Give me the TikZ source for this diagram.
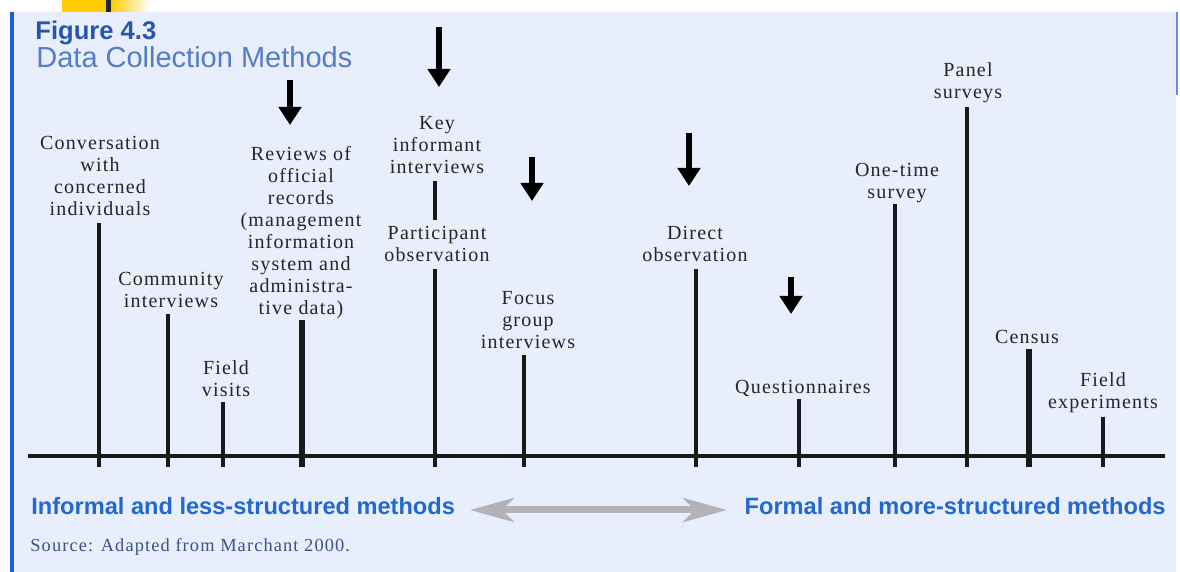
\documentclass[tikz,border=0pt]{standalone}
\usepackage{fontspec}
\setmainfont[LetterSpace=6]{Liberation Serif}
\newfontfamily\figsans{Liberation Sans}
\usepackage{tikz}
\usetikzlibrary{arrows.meta, calc}

\definecolor{panelblue}{RGB}{232,238,252}
\definecolor{borderblue}{RGB}{25,95,215}
\definecolor{figblue}{RGB}{40,85,175}
\definecolor{titleblue}{RGB}{85,125,195}
\definecolor{scaleblue}{RGB}{35,105,205}
\definecolor{sourceblue}{RGB}{60,80,140}
\definecolor{rangegray}{RGB}{178,178,184}
\definecolor{tabyellow}{RGB}{255,204,0}

\begin{document}
\begin{tikzpicture}[x=0.5pt, y=-0.5pt]
    \tikzset{
        method label/.style={
                font=\fontsize{10}{11}\selectfont, text=black!85, align=center,
                inner sep=0pt, text depth=0pt, anchor=south
            },
        stem/.style={line width=2pt, black!90},
        heavy stem/.style={line width=2.8pt, black!90},
        cue arrow/.style={
                -{Triangle[width=11pt, length=9pt]},
                line width=3pt, black
            },
        range arrow/.style={
                {Stealth[width=12pt, length=22pt, inset=6pt]}-{Stealth[width=12pt, length=22pt, inset=6pt]},
                line width=3.5pt, rangegray
            },
        scale text/.style={font=\figsans\bfseries\fontsize{11.8}{14}\selectfont, text=scaleblue, inner sep=0pt}
    }
    \useasboundingbox (0,0) rectangle (1180,572);

    % panel and tab
    \fill[white] (0,0) rectangle (1180,572);
    \fill[panelblue] (10,12) rectangle (1176,572);
    \fill[borderblue] (10,12) rectangle (14,572);
    \draw[line width=1pt, borderblue!70] (1177,12) -- (1177,95);
    \fill[tabyellow] (62,0) rectangle (106,12);
    \fill[black!85] (106,0) rectangle (111,12);
    \shade[left color=tabyellow, right color=white] (111,0) rectangle (150,12);

    % heading
    \node[font=\figsans\bfseries\fontsize{12.8}{14}\selectfont, text=figblue, anchor=base west, inner sep=0pt] (fignum) at (35,40) {Figure 4.3};
    \node[font=\figsans\fontsize{14.5}{16}\selectfont, text=titleblue, anchor=base west, inner sep=0pt] (figtitle) at (36,68) {Data Collection Methods};

    % axis
    \coordinate (axis-l) at (28,456);
    \coordinate (axis-r) at (1165,456);
    \draw[line width=1.7pt, black!90] (axis-l) -- (axis-r);

    % methods
    \node[method label] (conv) at (100,216) {Conversation\\with\\concerned\\individuals};
    \node[method label] (comm) at (171,308) {Community\\interviews};
    \node[method label] (visit) at (226,397) {Field\\visits};
    \node[method label] (review) at (301,315) {Reviews of\\official\\records\\(management\\information\\system and\\administra-\\tive data)};
    \node[method label] (keyinf) at (437,174) {Key\\informant\\interviews};
    \node[method label] (partic) at (437,262) {Participant\\observation};
    \node[method label] (focus) at (528,349) {Focus\\group\\interviews};
    \node[method label] (direct) at (695,262) {Direct\\observation};
    \node[method label] (quest) at (803,394) {Questionnaires};
    \node[method label] (onetime) at (897,199) {One-time\\survey};
    \node[method label] (panel) at (968,99) {Panel\\surveys};
    \node[method label] (census) at (1027,344) {Census};
    \node[method label] (fieldexp) at (1103,409) {Field\\experiments};

    \coordinate (conv-t) at (99,223);      \coordinate (conv-b) at (99,467);
    \coordinate (comm-t) at (168,314);     \coordinate (comm-b) at (168,467);
    \coordinate (visit-t) at (223,402);    \coordinate (visit-b) at (223,467);
    \coordinate (review-t) at (302,320);   \coordinate (review-b) at (302,467);
    \coordinate (keyinf-t) at (435,181);   \coordinate (keyinf-b) at (435,220);
    \coordinate (partic-t) at (435,269);   \coordinate (partic-b) at (435,467);
    \coordinate (focus-t) at (524,355);    \coordinate (focus-b) at (524,467);
    \coordinate (direct-t) at (696,269);   \coordinate (direct-b) at (696,467);
    \coordinate (quest-t) at (799,399);    \coordinate (quest-b) at (799,467);
    \coordinate (onetime-t) at (895,204);  \coordinate (onetime-b) at (895,467);
    \coordinate (panel-t) at (967,107);    \coordinate (panel-b) at (967,467);
    \coordinate (census-t) at (1029,349);  \coordinate (census-b) at (1029,467);
    \coordinate (fieldexp-t) at (1103,417); \coordinate (fieldexp-b) at (1103,467);

    \draw[stem] (conv-b) -- (conv-t);
    \draw[stem] (comm-b) -- (comm-t);
    \draw[stem] (visit-b) -- (visit-t);
    \draw[heavy stem] (review-b) -- (review-t);
    \draw[stem] (keyinf-b) -- (keyinf-t);
    \draw[stem] (partic-b) -- (partic-t);
    \draw[stem] (focus-b) -- (focus-t);
    \draw[stem] (direct-b) -- (direct-t);
    \draw[stem] (quest-b) -- (quest-t);
    \draw[stem] (onetime-b) -- (onetime-t);
    \draw[stem] (panel-b) -- (panel-t);
    \draw[heavy stem] (census-b) -- (census-t);
    \draw[stem] (fieldexp-b) -- (fieldexp-t);

    % pointer arrows
    \coordinate (cue1-s) at (290,80);  \coordinate (cue1-e) at (290,125);
    \coordinate (cue2-s) at (439,27);  \coordinate (cue2-e) at (439,87);
    \coordinate (cue3-s) at (532,157); \coordinate (cue3-e) at (532,201);
    \coordinate (cue4-s) at (689,133); \coordinate (cue4-e) at (689,186);
    \coordinate (cue5-s) at (791,277); \coordinate (cue5-e) at (791,314);
    \draw[cue arrow] (cue1-s) -- (cue1-e);
    \draw[cue arrow] (cue2-s) -- (cue2-e);
    \draw[cue arrow] (cue3-s) -- (cue3-e);
    \draw[cue arrow] (cue4-s) -- (cue4-e);
    \draw[cue arrow] (cue5-s) -- (cue5-e);

    % scale
    \node[scale text, anchor=base west] (informal) at (31,515) {Informal and less-structured methods};
    \node[scale text, anchor=base east] (formal) at (1166,515) {Formal and more-structured methods};
    \coordinate (range-l) at (470,510);
    \coordinate (range-r) at (727,510);
    \draw[range arrow] (range-l) -- (range-r);

    \node[font=\fontsize{9.2}{11}\selectfont, text=sourceblue, anchor=base west, inner sep=0pt] (source) at (30,552) {Source: Adapted from Marchant 2000.};
\end{tikzpicture}
\end{document}
